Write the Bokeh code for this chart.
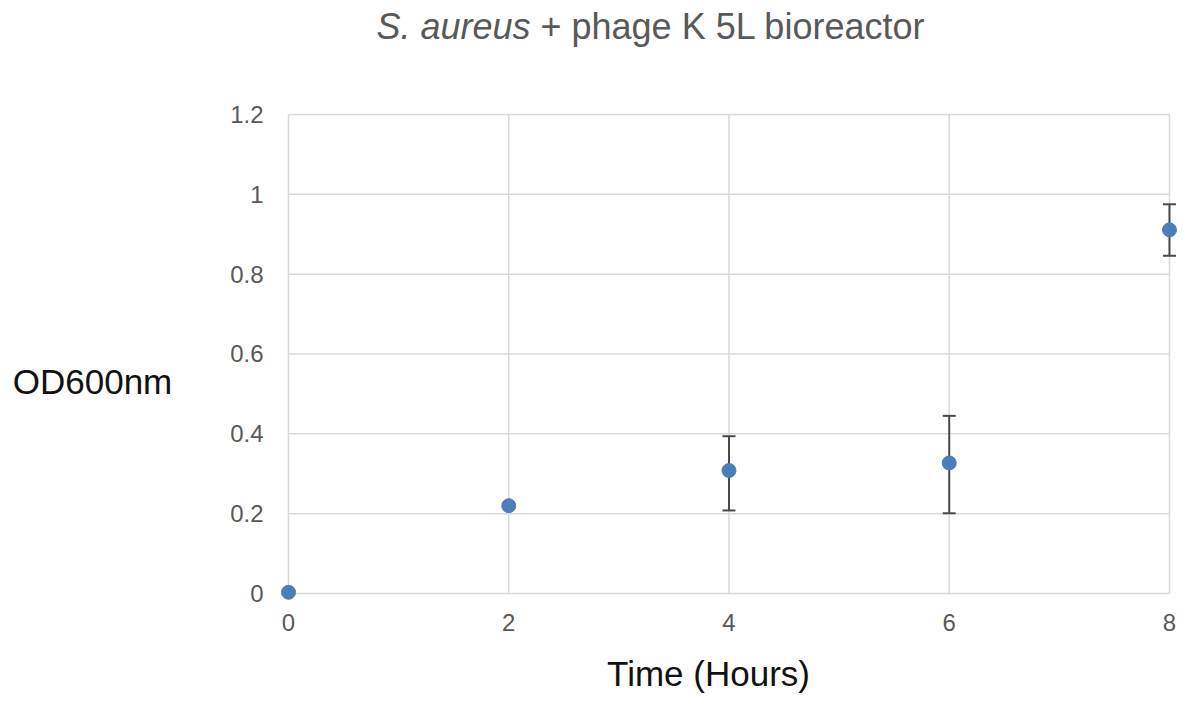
from bokeh.plotting import figure
from bokeh.models import ColumnDataSource, Whisker, TeeHead, Label, Range1d
from bokeh.core.properties import value
from bokeh.embed import file_html
from bokeh.resources import INLINE

# ---- data ----
hours = [0, 2, 4, 6, 8]
od600 = [0.003, 0.22, 0.308, 0.327, 0.911]
err_up = [0.0, 0.0, 0.086, 0.118, 0.064]
err_down = [0.0, 0.0, 0.100, 0.126, 0.065]
x_ticks = [0, 2, 4, 6, 8]
x_tick_labels = ["0", "2", "4", "6", "8"]
y_ticks = [0, 0.2, 0.4, 0.6, 0.8, 1.0, 1.2]
y_tick_labels = ["0", "0.2", "0.4", "0.6", "0.8", "1", "1.2"]
title_italic = "S. aureus"
title_rest = "+ phage K 5L bioreactor"
x_title = "Time (Hours)"
y_title = "OD600nm"

FONT = "Liberation Sans"
GREY = "#595959"
GRID = "#d9d9d9"
BLUE = "#4a7ebb"
WCOL = "#4a4a4a"

W, H = 1187, 704
# data box placement in the canvas (pixels)
X0PX, XPU = 288, 110.12     # pixel of x=0, pixels per hour
Y0PX, YPU = 593, 399.2      # pixel of y=0, pixels per OD unit

p = figure(width=W, height=H, output_backend="svg", toolbar_location=None,
           x_axis_location=None, y_axis_location=None, min_border=0,
           x_range=Range1d(-X0PX / XPU, (W - X0PX) / XPU),
           y_range=Range1d((Y0PX - H) / YPU, Y0PX / YPU))
p.outline_line_color = None
p.grid.visible = False

# grid drawn from tick arrays, limited to the data box
xmin, xmax = min(x_ticks), max(x_ticks)
ymin, ymax = min(y_ticks), max(y_ticks)
p.segment(x0=x_ticks, x1=x_ticks, y0=[ymin] * len(x_ticks), y1=[ymax] * len(x_ticks),
          line_color=GRID, line_width=1.5, level="image")
p.segment(x0=[xmin] * len(y_ticks), x1=[xmax] * len(y_ticks), y0=y_ticks, y1=y_ticks,
          line_color=GRID, line_width=1.5, level="image")

# tick labels at the tick positions
p.text(x=x_ticks, y=[ymin] * len(x_ticks), text=x_tick_labels, y_offset=29,
       text_font=value(FONT), text_font_size="24px", text_color=GREY,
       text_align="center", text_baseline="alphabetic")
p.text(x=[xmin] * len(y_ticks), y=y_ticks, text=y_tick_labels, x_offset=-25, y_offset=0,
       text_font=value(FONT), text_font_size="24px", text_color=GREY,
       text_align="right", text_baseline="alphabetic")

# error bars
idx = [i for i in range(len(hours)) if err_up[i] > 0 or err_down[i] > 0]
wsrc = ColumnDataSource(dict(
    base=[hours[i] for i in idx],
    upper=[od600[i] + err_up[i] for i in idx],
    lower=[od600[i] - err_down[i] for i in idx],
))
w = Whisker(source=wsrc, base="base", upper="upper", lower="lower",
            line_color=WCOL, line_width=2, level="underlay",
            upper_head=TeeHead(size=13, line_color=WCOL, line_width=2),
            lower_head=TeeHead(size=13, line_color=WCOL, line_width=2))
p.add_layout(w)

# points
src = ColumnDataSource(dict(x=hours, y=od600))
p.scatter("x", "y", source=src, size=14, fill_color=BLUE, line_color=BLUE)

# texts (screen units: from the frame's bottom-left = canvas bottom-left)
p.add_layout(Label(x=530, y=H - 26, x_units="screen", y_units="screen", text=title_italic,
                   text_font=FONT, text_font_size="36px", text_font_style="italic",
                   text_color=GREY, text_align="right", text_baseline="alphabetic"))
p.add_layout(Label(x=540, y=H - 26, x_units="screen", y_units="screen", text=title_rest,
                   text_font=FONT, text_font_size="36px", text_color=GREY,
                   text_align="left", text_baseline="alphabetic"))
p.add_layout(Label(x=92, y=H - 381, x_units="screen", y_units="screen", text=y_title,
                   text_font=FONT, text_font_size="35px", text_color="#111111",
                   text_align="center", text_baseline="alphabetic"))
p.add_layout(Label(x=708, y=H - 673, x_units="screen", y_units="screen", text=x_title,
                   text_font=FONT, text_font_size="35px", text_color="#111111",
                   text_align="center", text_baseline="alphabetic"))

open("out.html", "w").write(file_html(p, INLINE))
